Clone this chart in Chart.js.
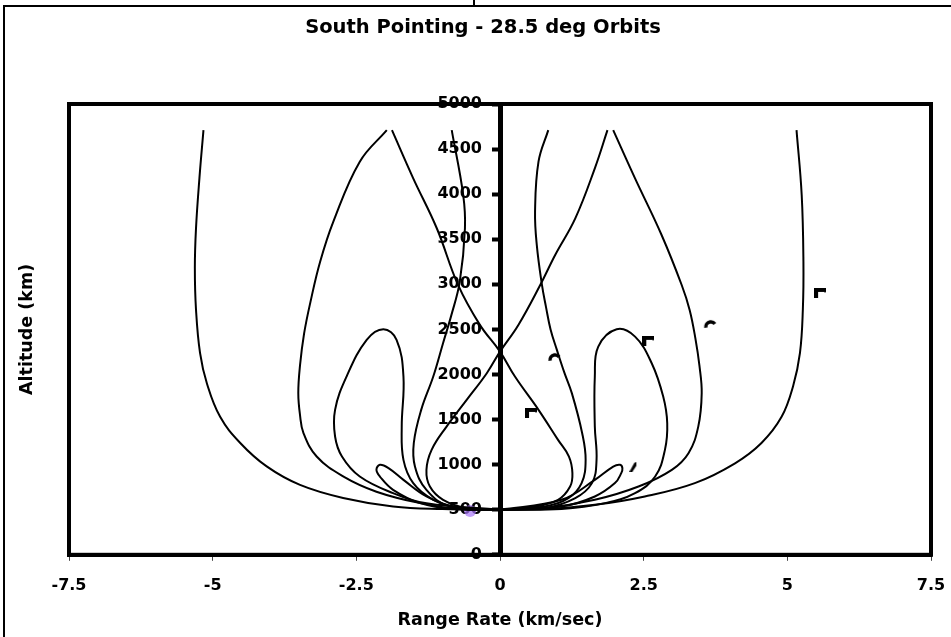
<!DOCTYPE html>
<html>
<head>
<meta charset="utf-8">
<title>South Pointing - 28.5 deg Orbits</title>
<script src="https://cdn.jsdelivr.net/npm/chart.js@4"></script>
<style>
  html, body { margin: 0; padding: 0; background: #fff; }
  canvas { display: block; }
</style>
</head>
<body>
<canvas id="chart" width="951" height="637"></canvas>
<script>
// Axis ticks
const xTicks = [-7.5, -5, -2.5, 0, 2.5, 5, 7.5];
const yTicks = [0, 500, 1000, 1500, 2000, 2500, 3000, 3500, 4000, 4500, 5000];

// Trajectories: [range rate (km/sec), altitude (km)]
const outerLeft = [[-5.16,4710],[-5.23,4180],[-5.29,3620],[-5.31,3180],[-5.29,2720],[-5.22,2240],[-5.10,1900],[-4.87,1530],[-4.52,1240],[-4.06,980],[-3.48,775],[-2.73,630],[-1.86,536],[-1.0,508],[0,500]];
const outerRight = [[5.16,4710],[5.25,3990],[5.28,3250],[5.27,2720],[5.22,2240],[5.10,1870],[4.90,1530],[4.55,1240],[4.09,1015],[3.39,795],[2.52,647],[1.65,554],[0.78,507],[0,500]];
const wideLeft = [[-1.97,4710],[-2.44,4360],[-2.90,3695],[-3.13,3250],[-3.30,2800],[-3.41,2450],[-3.48,2100],[-3.51,1795],[-3.48,1550],[-3.42,1350],[-3.19,1090],[-2.73,870],[-2.15,700],[-1.39,573],[-0.70,508],[0,500]];
const wideRight = [[1.97,4710],[2.35,4175],[2.81,3550],[3.16,2995],[3.30,2716],[3.40,2400],[3.47,2100],[3.51,1793],[3.45,1422],[3.28,1127],[2.99,942],[2.41,757],[1.65,610],[0.78,518],[0,500]];
const crossToRight = [[-1.88,4710],[-1.51,4176],[-1.10,3622],[-0.73,2993],[-0.35,2550],[0,2254],[0.26,1977],[0.67,1608],[1.01,1275],[1.20,1090],[1.26,906],[1.22,757],[1.01,610],[0.55,529],[0,500]];
const crossToLeft = [[1.87,4710],[1.65,4287],[1.31,3732],[0.96,3326],[0.70,2993],[0.32,2550],[0,2254],[-0.23,2014],[-0.58,1718],[-0.93,1422],[-1.19,1164],[-1.28,942],[-1.22,757],[-0.99,610],[-0.58,518],[0,500]];
const nearLeft = [[-0.84,4710],[-0.64,3990],[-0.61,3620],[-0.70,3030],[-0.85,2650],[-0.99,2350],[-1.16,1980],[-1.37,1610],[-1.50,1240],[-1.48,980],[-1.28,720],[-0.87,536],[0,500]];
const nearRight = [[0.84,4710],[0.67,4360],[0.61,3806],[0.64,3437],[0.73,2993],[0.80,2750],[0.88,2500],[0.99,2273],[1.12,2020],[1.25,1793],[1.43,1349],[1.49,1053],[1.42,795],[1.19,629],[0.78,536],[0,500]];
const loopLeft = [[0,500],[-1.28,573],[-1.86,684],[-2.44,868],[-2.75,1090],[-2.87,1312],[-2.87,1608],[-2.67,1977],[-2.32,2384],[-2.03,2502],[-1.80,2384],[-1.68,1977],[-1.71,1422],[-1.68,1053],[-1.51,795],[-1.16,610],[-0.70,518],[0,500]];
const loopRight = [[0,500],[1.07,507],[1.83,573],[2.35,684],[2.70,868],[2.87,1164],[2.91,1460],[2.84,1755],[2.64,2125],[2.35,2420],[2.03,2502],[1.71,2309],[1.65,1977],[1.65,1422],[1.68,1053],[1.60,795],[1.31,629],[0.78,518],[0,500]];
const smallLeft = [[0,500],[-0.81,507],[-1.39,573],[-1.86,721],[-2.09,868],[-2.15,942],[-2.09,998],[-1.94,961],[-1.68,831],[-1.28,647],[-0.81,536],[0,500]];
const smallRight = [[0,500],[1.07,610],[1.65,831],[1.97,979],[2.09,998],[2.13,960],[2.11,906],[2.00,795],[1.65,647],[1.07,536],[0,500]];

// Stray marker fragments and the launch-point dot
const markX = [0.54, 0.94, 2.58, 3.65, 5.57, 2.32];
const markY = [1574, 2184, 2373, 2550, 2905, 976];
const markKind = ['corner', 'arc', 'corner', 'arc', 'corner', 'wedge'];
const dotX = [-0.52];
const dotY = [485];

const chartTitle = 'South Pointing - 28.5 deg Orbits';
const xTitle = 'Range Rate (km/sec)';
const yTitle = 'Altitude (km)';

const FONT = '"DejaVu Sans", "Liberation Sans", sans-serif';
Chart.defaults.font.family = FONT;
Chart.defaults.color = '#000';

// Small glyphs used as point styles for the marker fragments
function glyph(w, h, paint) {
  const c = document.createElement('canvas');
  c.width = w; c.height = h;
  const g = c.getContext('2d');
  g.fillStyle = '#000'; g.strokeStyle = '#000';
  paint(g);
  return c;
}
const glyphs = {
  corner: glyph(12, 10, g => { g.fillRect(0, 0, 12, 4); g.fillRect(0, 0, 4, 10); g.fillStyle = '#999'; g.fillRect(10, 4, 2, 1); }),
  arc: glyph(14, 12, g => { g.lineWidth = 3.5; g.beginPath(); g.arc(8, 8, 5, Math.PI * 0.95, Math.PI * 1.8); g.stroke(); }),
  wedge: glyph(8, 10, g => { g.beginPath(); g.moveTo(0, 10); g.lineTo(5, 1); g.lineTo(7, 0); g.lineTo(7, 4); g.lineTo(3, 10); g.closePath(); g.fill(); })
};

const toPoints = arr => arr.map(([x, y]) => ({ x, y }));
const curves = [outerLeft, outerRight, wideLeft, wideRight, crossToRight, crossToLeft,
                nearLeft, nearRight, loopLeft, loopRight, smallLeft, smallRight];

const datasets = curves.map(c => ({
  data: toPoints(c),
  showLine: true,
  borderColor: '#000',
  borderWidth: 2,
  pointRadius: 0,
  tension: 0.4,
  fill: false
}));
datasets.push({
  data: markX.map((x, i) => ({ x, y: markY[i] })),
  showLine: false,
  pointRadius: 6,
  pointStyle: markKind.map(k => glyphs[k])
});
datasets.push({
  data: dotX.map((x, i) => ({ x, y: dotY[i] })),
  showLine: false,
  pointRadius: 6,
  pointStyle: 'circle',
  backgroundColor: 'rgba(170,120,250,0.7)',
  borderWidth: 0
});

// Altitude labels sit a little left of the zero-rate axis
const axisLabelGap = 18;
const labelShiftPlugin = {
  id: 'labelShift',
  beforeDraw(chart) {
    const s = chart.scales.y;
    const items = s.getLabelItems();
    const x0 = chart.scales.x.getPixelForValue(0) - axisLabelGap;
    items.forEach(it => { it.options.translation = [x0, it.options.translation[1]]; });
  }
};

// Plot frame, page rule lines and chart heading
const framePlugin = {
  id: 'frame',
  afterDraw(chart) {
    const { ctx, chartArea: a } = chart;
    ctx.save();
    ctx.strokeStyle = '#000';
    ctx.lineWidth = 4;
    ctx.strokeRect(a.left, a.top, a.right - a.left, a.bottom - a.top);
    ctx.lineWidth = 2;
    ctx.beginPath();
    ctx.moveTo(4, 637); ctx.lineTo(4, 6); ctx.lineTo(951, 6);
    ctx.moveTo(474, 0); ctx.lineTo(474, 6);
    ctx.stroke();
    ctx.fillStyle = '#000';
    ctx.font = 'bold 19.5px ' + FONT;
    ctx.textAlign = 'center';
    ctx.textBaseline = 'middle';
    ctx.fillText(chartTitle, 483, 28);
    ctx.restore();
  }
};

const tickFont = { size: 16, weight: 'bold' };
const titleFont = { size: 17.5, weight: 'bold' };

new Chart(document.getElementById('chart'), {
  type: 'scatter',
  data: { datasets },
  options: {
    responsive: false,
    animation: false,
    events: [],
    layout: { padding: { left: 6, right: 20, top: 104, bottom: 6 } },
    plugins: { legend: { display: false }, tooltip: { enabled: false }, title: { display: false } },
    scales: {
      x: {
        type: 'linear', min: -7.5, max: 7.5,
        afterBuildTicks: s => { s.ticks = xTicks.map(v => ({ value: v })); },
        afterFit: s => { s.paddingLeft = 18; s.paddingRight = 14; },
        ticks: { font: tickFont, color: '#000', padding: 15, maxRotation: 0, callback: v => String(v) },
        grid: { display: true, drawOnChartArea: false, drawTicks: true, tickLength: 6, tickWidth: 1, tickColor: '#444' },
        border: { display: true, width: 4, color: '#000' },
        title: { display: true, text: xTitle, font: titleFont, color: '#000', padding: { top: 0, bottom: 0 } }
      },
      yTitle: {
        type: 'linear', position: 'left', min: 0, max: 5000,
        ticks: { display: false },
        grid: { display: false, drawTicks: false },
        border: { display: false },
        title: { display: true, text: yTitle, font: titleFont, color: '#000', padding: { top: 10.5, bottom: 31.5 } }
      },
      y: {
        type: 'linear', position: { x: 0 }, min: 0, max: 5000,
        afterBuildTicks: s => { s.ticks = yTicks.map(v => ({ value: v })); },
        ticks: { font: tickFont, color: '#000', padding: 12, callback: v => String(v) },
        grid: { display: true, drawOnChartArea: false, drawTicks: true, tickLength: 6, tickWidth: 4, tickColor: '#000' },
        border: { display: true, width: 5, color: '#000' }
      }
    }
  },
  plugins: [labelShiftPlugin, framePlugin]
});
</script>
</body>
</html>
